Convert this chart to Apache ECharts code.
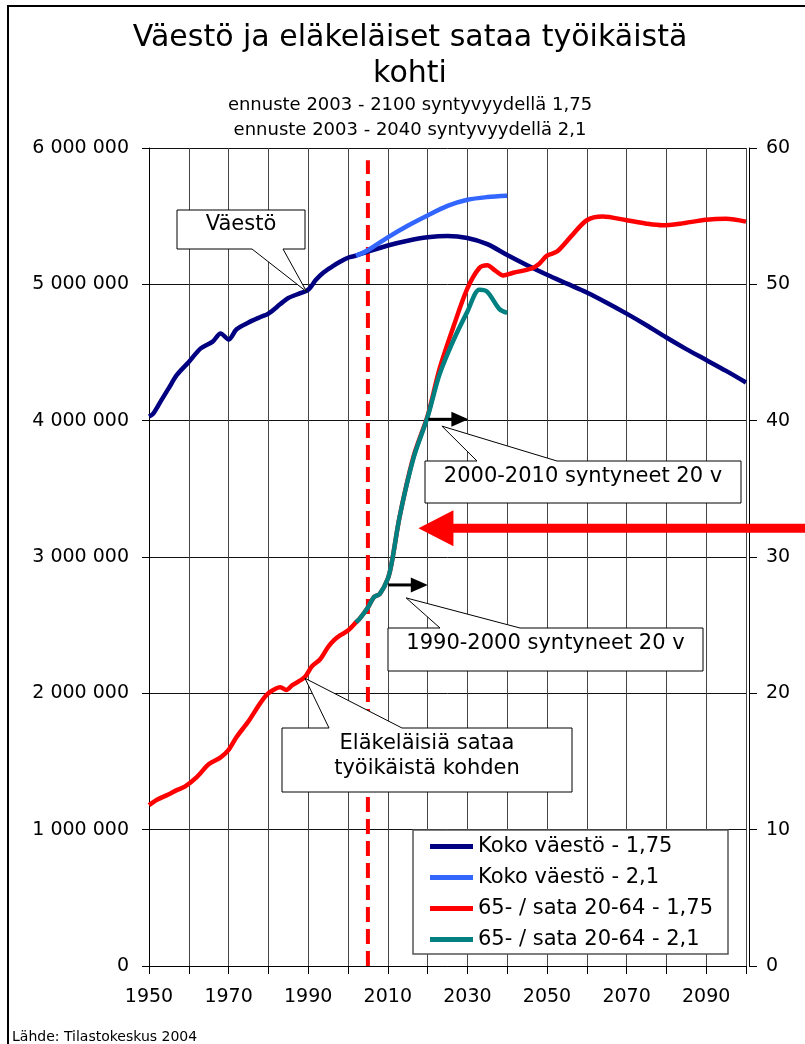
<!DOCTYPE html>
<html>
<head>
<meta charset="utf-8">
<script src="https://cdn.jsdelivr.net/npm/echarts@6/dist/echarts.min.js"></script>
<style>
html, body { margin: 0; padding: 0; background: #fff; }
#chart { width: 805px; height: 1044px; }
</style>
</head>
<body>
<div id="chart"></div>
<script>
// Koko väestö, syntyvyys 1,75 (toteutunut + ennuste)
var popYears = [1950, 1951, 1953, 1955, 1957, 1960, 1963, 1966, 1968, 1970, 1972, 1975, 1978, 1980, 1983, 1985, 1988, 1990,
    1992, 1994, 1996, 1998, 2000, 2002, 2005, 2010, 2015, 2020, 2025, 2030, 2035, 2040, 2045, 2050, 2055, 2060,
    2065, 2070, 2075, 2080, 2085, 2090, 2095, 2100];
var popValues = [4030000, 4050000, 4145000, 4240000, 4335000, 4430000, 4530000, 4580000, 4640000, 4595000, 4670000, 4720000,
    4760000, 4785000, 4855000, 4900000, 4935000, 4960000, 5035000, 5090000, 5130000, 5165000, 5195000, 5210000,
    5240000, 5285000, 5320000, 5345000, 5355000, 5340000, 5295000, 5215000, 5140000, 5070000, 5005000, 4940000,
    4865000, 4785000, 4700000, 4610000, 4525000, 4445000, 4365000, 4280000];

// Koko väestö, syntyvyys 2,1
var pop21Years = [2002, 2005, 2010, 2015, 2020, 2025, 2030, 2035, 2040];
var pop21Values = [5210000, 5250000, 5345000, 5430000, 5505000, 5575000, 5620000, 5640000, 5650000];

// 65- / sata 20-64, syntyvyys 1,75
var ratioYears = [1950, 1952, 1955, 1957, 1959, 1962, 1965, 1968, 1970, 1972, 1975, 1978, 1980, 1983, 1984.5, 1986,
    1989, 1991, 1993, 1995, 1996.5, 1998, 2000, 2002, 2003, 2005, 2006.5, 2008, 2010, 2011, 2013, 2016.5, 2020, 2023,
    2026.5, 2030, 2033, 2035, 2037, 2039, 2041.5, 2046, 2048, 2050, 2052.5, 2056, 2060, 2064, 2070, 2075, 2079,
    2083.5, 2090, 2095, 2100];
var ratioValues = [11.8, 12.2, 12.6, 12.9, 13.15, 13.85, 14.8, 15.3, 15.85, 16.8, 17.95, 19.3, 20.0, 20.45, 20.25, 20.6,
    21.15, 22.0, 22.5, 23.4, 23.9, 24.25, 24.6, 25.2, 25.5, 26.3, 27.05, 27.3, 28.4, 29.6, 33.0, 37.4, 40.35, 43.8,
    46.9, 49.7, 51.2, 51.4, 51.0, 50.65, 50.85, 51.15, 51.5, 52.1, 52.4, 53.5, 54.7, 54.98, 54.7, 54.45, 54.33,
    54.45, 54.74, 54.81, 54.6];

// 65- / sata 20-64, syntyvyys 2,1
var ratio21Years = [2002, 2003, 2005, 2006.5, 2008, 2010, 2011, 2013, 2016.5, 2020, 2023, 2026.5, 2030, 2033, 2035,
    2038, 2040];
var ratio21Values = [25.2, 25.5, 26.3, 27.05, 27.3, 28.4, 29.6, 33.0, 37.3, 40.27, 43.4, 45.9, 48.0, 49.6, 49.45,
    48.2, 47.9];

var forecastYear = 2005;
var xLabelYears = [1950, 1970, 1990, 2010, 2030, 2050, 2070, 2090];
var seriesNames = ['Koko väestö - 1,75', 'Koko väestö - 2,1', '65- / sata 20-64 - 1,75', '65- / sata 20-64 - 2,1'];
var seriesColors = ['#000080', '#3366ff', '#ff0000', '#008080'];

function pairs(xs, ys) {
    return xs.map(function (x, i) { return [x, ys[i]]; });
}

var FONT = '"DejaVu Sans", sans-serif';
var chart = echarts.init(document.getElementById('chart'));

var option = {
    animation: false,
    backgroundColor: '#fff',
    grid: { left: 149, right: 59, top: 148, bottom: 78 },
    legend: {
        data: seriesNames,
        orient: 'vertical',
        left: 413, top: 830,
        padding: [6, 10, 4, 17],
        itemWidth: 43, itemHeight: 5, itemGap: 10,
        icon: 'rect',
        textStyle: { fontFamily: FONT, fontSize: 21, lineHeight: 21, color: '#000' }
    },
    xAxis: {
        type: 'value',
        min: 1950, max: 2100, interval: 10,
        axisLine: { lineStyle: { color: '#000', width: 1 } },
        axisTick: { show: true, length: 8, lineStyle: { color: '#000' } },
        axisLabel: {
            margin: 22, fontFamily: FONT, fontSize: 19, color: '#000',
            formatter: function (v) { return xLabelYears.indexOf(v) >= 0 ? String(v) : ''; }
        },
        splitLine: { show: true, lineStyle: { color: '#444', width: 1 } }
    },
    yAxis: [{
        type: 'value',
        min: 0, max: 6000000, interval: 1000000,
        axisLine: { show: true, lineStyle: { color: '#000', width: 1 } },
        axisTick: { show: true, length: 7, lineStyle: { color: '#000' } },
        axisLabel: {
            margin: 20, fontFamily: FONT, fontSize: 19, color: '#000',
            formatter: function (v) { return String(v).replace(/\B(?=(\d{3})+(?!\d))/g, ' '); }
        },
        splitLine: { show: true, lineStyle: { color: '#111', width: 1 } }
    }, {
        type: 'value',
        position: 'right',
        offset: 3,
        min: 0, max: 60, interval: 10,
        axisLine: { show: true, lineStyle: { color: '#000', width: 1 } },
        axisTick: { show: true, length: 8, lineStyle: { color: '#000' } },
        axisLabel: { margin: 17, fontFamily: FONT, fontSize: 19, color: '#000' },
        splitLine: { show: false }
    }],
    series: [{
        name: 'ennuste',
        type: 'line',
        z: 1,
        silent: true,
        symbol: 'none',
        data: [[forecastYear, 0], [forecastYear, 5910000]],
        lineStyle: { color: '#ff0000', width: 4, type: [15, 7] }
    }, {
        name: seriesNames[0], type: 'line', yAxisIndex: 0, showSymbol: false, smooth: 0.3,
        data: pairs(popYears, popValues), color: seriesColors[0],
        lineStyle: { width: 4.5, color: seriesColors[0] }
    }, {
        name: seriesNames[1], type: 'line', yAxisIndex: 0, showSymbol: false, smooth: 0.3,
        data: pairs(pop21Years, pop21Values), color: seriesColors[1],
        lineStyle: { width: 4.5, color: seriesColors[1] }
    }, {
        name: seriesNames[2], type: 'line', yAxisIndex: 1, showSymbol: false, smooth: 0.3,
        data: pairs(ratioYears, ratioValues), color: seriesColors[2],
        lineStyle: { width: 4.5, color: seriesColors[2] }
    }, {
        name: seriesNames[3], type: 'line', yAxisIndex: 1, showSymbol: false, smooth: 0.3,
        data: pairs(ratio21Years, ratio21Values), color: seriesColors[3],
        lineStyle: { width: 4.5, color: seriesColors[3] }
    }]
};
chart.setOption(option);

// selitelaatikot, kärjet kiinnitetty datapisteisiin
var callouts = [
    { text: ['Väestö'], box: [177, 210, 305, 249], side: 'bottom', notch: [252, 283], at: [1989.6, 4946000], axis: 0, textY: [225] },
    { text: ['2000-2010 syntyneet 20 v'], box: [425, 461, 741, 503], side: 'top', notch: [477, 557], at: [2023.6, 39.6], axis: 1, textY: [476.5] },
    { text: ['1990-2000 syntyneet 20 v'], box: [388, 628, 703, 671], side: 'top', notch: [440, 520], at: [2014.6, 27.0], axis: 1, textY: [643.5] },
    { text: ['Eläkeläisiä sataa', 'työikäistä kohden'], box: [282, 728, 572, 792], side: 'top', notch: [329, 402], at: [1989.2, 21.1], axis: 1, textY: [743.5, 769] }
];
var arrows = [
    { from: [2020.2, 40.1], to: [2030.25, 40.1] },
    { from: [2010.15, 27.95], to: [2020.05, 27.95] }
];
var bigArrowTip = [2017.7, 32.1];

function px(p, axis) {
    return chart.convertToPixel({ xAxisIndex: 0, yAxisIndex: axis }, p);
}

var g = [];
// kehys
g.push({ type: 'line', z: 6, shape: { x1: 7, y1: 6, x2: 805, y2: 6 }, style: { stroke: '#000', lineWidth: 2 } });
g.push({ type: 'line', z: 6, shape: { x1: 8, y1: 5, x2: 8, y2: 1044 }, style: { stroke: '#000', lineWidth: 2 } });

// otsikot
g.push({ type: 'text', z: 6, style: { text: 'Väestö ja eläkeläiset sataa työikäistä', x: 410, y: 38.5, font: '30px ' + FONT, fill: '#000', textAlign: 'center', textVerticalAlign: 'middle' } });
g.push({ type: 'text', z: 6, style: { text: 'kohti', x: 410, y: 74, font: '30px ' + FONT, fill: '#000', textAlign: 'center', textVerticalAlign: 'middle' } });
g.push({ type: 'text', z: 6, style: { text: 'ennuste 2003 - 2100 syntyvyydellä 1,75', x: 410, y: 105, font: '18px ' + FONT, fill: '#000', textAlign: 'center', textVerticalAlign: 'middle' } });
g.push({ type: 'text', z: 6, style: { text: 'ennuste 2003 - 2040 syntyvyydellä 2,1', x: 410, y: 130.5, font: '18px ' + FONT, fill: '#000', textAlign: 'center', textVerticalAlign: 'middle' } });
g.push({ type: 'text', z: 6, style: { text: 'Lähde: Tilastokeskus 2004', x: 12, y: 1037, font: '14px ' + FONT, fill: '#000', textAlign: 'left', textVerticalAlign: 'middle' } });

// selitteen kehys
g.push({ type: 'rect', z: 3, shape: { x: 413, y: 830, width: 315, height: 124 }, style: { fill: '#fff', stroke: '#555', lineWidth: 1.5 } });

callouts.forEach(function (c) {
    var b = c.box, tip = px(c.at, c.axis), pts;
    if (c.side === 'bottom') {
        pts = [[b[0], b[1]], [b[2], b[1]], [b[2], b[3]], [c.notch[1], b[3]], tip, [c.notch[0], b[3]], [b[0], b[3]]];
    } else {
        pts = [[b[0], b[1]], [c.notch[0], b[1]], tip, [c.notch[1], b[1]], [b[2], b[1]], [b[2], b[3]], [b[0], b[3]]];
    }
    g.push({ type: 'polygon', z: 5, shape: { points: pts }, style: { fill: '#fff', stroke: '#000', lineWidth: 1 } });
    c.text.forEach(function (t, i) {
        g.push({ type: 'text', z: 6, style: { text: t, x: (b[0] + b[2]) / 2, y: c.textY[i], font: '21px ' + FONT, fill: '#000', textAlign: 'center', textVerticalAlign: 'middle' } });
    });
});

arrows.forEach(function (a) {
    var s = px(a.from, 1), e = px(a.to, 1);
    g.push({ type: 'line', z: 6, shape: { x1: s[0], y1: s[1], x2: e[0] - 15, y2: e[1] }, style: { stroke: '#000', lineWidth: 3 } });
    g.push({ type: 'polygon', z: 6, shape: { points: [[e[0], e[1]], [e[0] - 17, e[1] - 7.5], [e[0] - 17, e[1] + 7.5]] }, style: { fill: '#000' } });
});

var t = px(bigArrowTip, 1);
g.push({
    type: 'polygon', z: 6,
    shape: { points: [[t[0], t[1]], [t[0] + 35, t[1] - 18], [t[0] + 35, t[1] - 4.5], [810, t[1] - 4.5], [810, t[1] + 4.5], [t[0] + 35, t[1] + 4.5], [t[0] + 35, t[1] + 18]] },
    style: { fill: '#ff0000' }
});

chart.setOption({ graphic: g });
</script>
</body>
</html>
